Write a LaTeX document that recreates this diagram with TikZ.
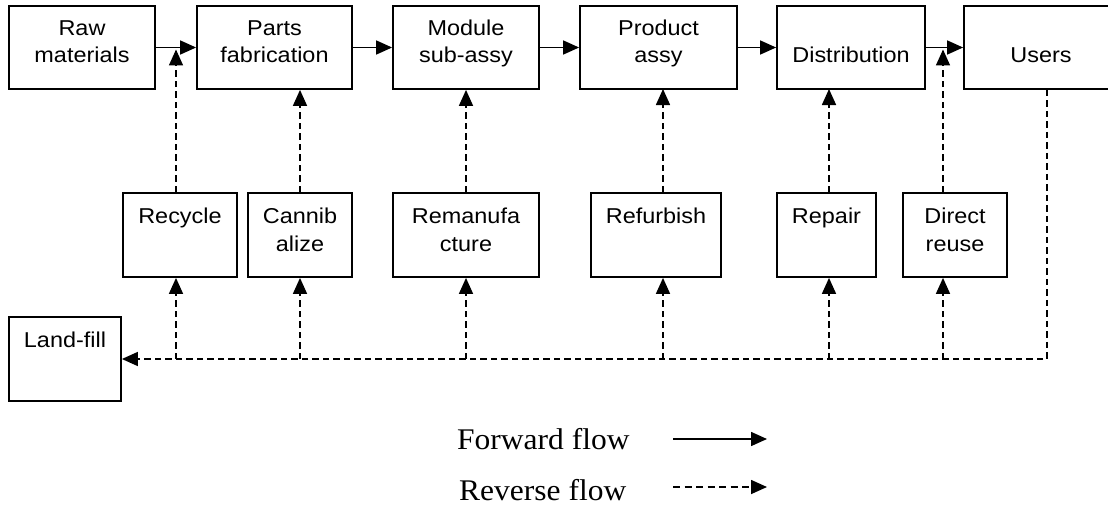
\documentclass[tikz,border=0pt]{standalone}
\usepackage{fontspec}
\setmainfont{Liberation Sans}
\newfontfamily\boxfont{Liberation Sans}[FakeStretch=1.09]
\newfontfamily\legendfont{Liberation Serif}[FakeStretch=1.05]
\usetikzlibrary{arrows.meta}

\begin{document}
\begin{tikzpicture}[x=1pt,y=-1pt,
  box/.style={draw, line width=1.8pt, inner sep=0pt},
  boxtext/.style={font=\boxfont\fontsize{21.5}{27.5}\selectfont, align=center,
    anchor=base, inner sep=0pt},
  legtext/.style={font=\legendfont\fontsize{30}{36}\selectfont, anchor=base west,
    inner sep=0pt},
  fwd/.style={line width=1.6pt, -{Triangle[length=16pt,width=14pt]}},
  rev/.style={fwd, dash pattern=on 6.5pt off 4pt},
  revleg/.style={fwd, dash pattern=on 7pt off 4.5pt},
]
\useasboundingbox (0,0) rectangle (1108,511);

% forward chain
\node[box, minimum width=146, minimum height=83] (raw)   at (82,47.5)    {};
\node[box, minimum width=155, minimum height=83] (fab)   at (274.5,47.5) {};
\node[box, minimum width=146, minimum height=83] (mod)   at (466,47.5)   {};
\node[box, minimum width=157, minimum height=83] (prod)  at (658.5,47.5) {};
\node[box, minimum width=148, minimum height=83] (dist)  at (851,47.5)   {};
\node[box, minimum width=154, minimum height=83] (users) at (1041,47.5)  {};

% labels are placed by the baseline of their last line
\node[boxtext] (rawT)   at (82,63)    {Raw\\materials};
\node[boxtext] (fabT)   at (274.5,63) {Parts\\fabrication};
\node[boxtext] (modT)   at (466,63)   {Module\\sub-assy};
\node[boxtext] (prodT)  at (658.5,63) {Product\\assy};
\node[boxtext] (distT)  at (851,63)   {Distribution};
\node[boxtext] (usersT) at (1041,63)  {Users};

% recovery options
\node[box, minimum width=114, minimum height=84] (rec)  at (180,235)   {};
\node[box, minimum width=104, minimum height=84] (can)  at (300,235)   {};
\node[box, minimum width=146, minimum height=84] (rem)  at (466,235)   {};
\node[box, minimum width=130, minimum height=84] (ref)  at (656,235)   {};
\node[box, minimum width=99,  minimum height=84] (rep)  at (826.5,235) {};
\node[box, minimum width=104, minimum height=84] (dir)  at (955,235)   {};
\node[box, minimum width=112, minimum height=84] (land) at (65,359)    {};

\node[boxtext] (recT)  at (180,223)   {Recycle};
\node[boxtext] (canT)  at (300,251)   {Cannib\\alize};
\node[boxtext] (remT)  at (466,251)   {Remanufa\\cture};
\node[boxtext] (refT)  at (656,223)   {Refurbish};
\node[boxtext] (repT)  at (826.5,223) {Repair};
\node[boxtext] (dirT)  at (955,251)   {Direct\\reuse};
\node[boxtext] (landT) at (65,347)    {Land-fill};

% forward flow
\draw[fwd] (raw.east)  -- (fab.west);
\draw[fwd] (fab.east)  -- (mod.west);
\draw[fwd] (mod.east)  -- (prod.west);
\draw[fwd] (prod.east) -- (dist.west);
\draw[fwd] (dist.east) -- (users.west);

% reverse flow: returns line from users to landfill
\coordinate (corner) at (1047,359);
\draw[rev] (users.south -| corner) -- (corner) -- (land.east);

% taps from the returns line into each recovery option
\foreach \b/\x in {rec/176, can/300, rem/466, ref/663, rep/829, dir/943}
  \draw[rev] (\x,359) -- (\b.south -| \x,0);

% recovery options feeding back into the chain
\draw[rev] (rec.north -| 176,0) -- (176,49.5);
\draw[rev] (can.north) -- (can.north |- fab.south);
\draw[rev] (rem.north) -- (rem.north |- mod.south);
\draw[rev] (ref.north -| 663,0) -- (663,89);
\draw[rev] (rep.north -| 829,0) -- (829,89);
\draw[rev] (dir.north -| 943,0) -- (943,49.5);

% legend
\node[legtext] (fwdT) at (457,449) {Forward flow};
\node[legtext] (revT) at (459,500) {Reverse flow};
\coordinate (f1) at (673,439);
\coordinate (f2) at (767,439);
\coordinate (r1) at (673,487);
\coordinate (r2) at (767,487);
\draw[fwd] (f1) -- (f2);
\draw[revleg] (r1) -- (r2);
\end{tikzpicture}
\end{document}
